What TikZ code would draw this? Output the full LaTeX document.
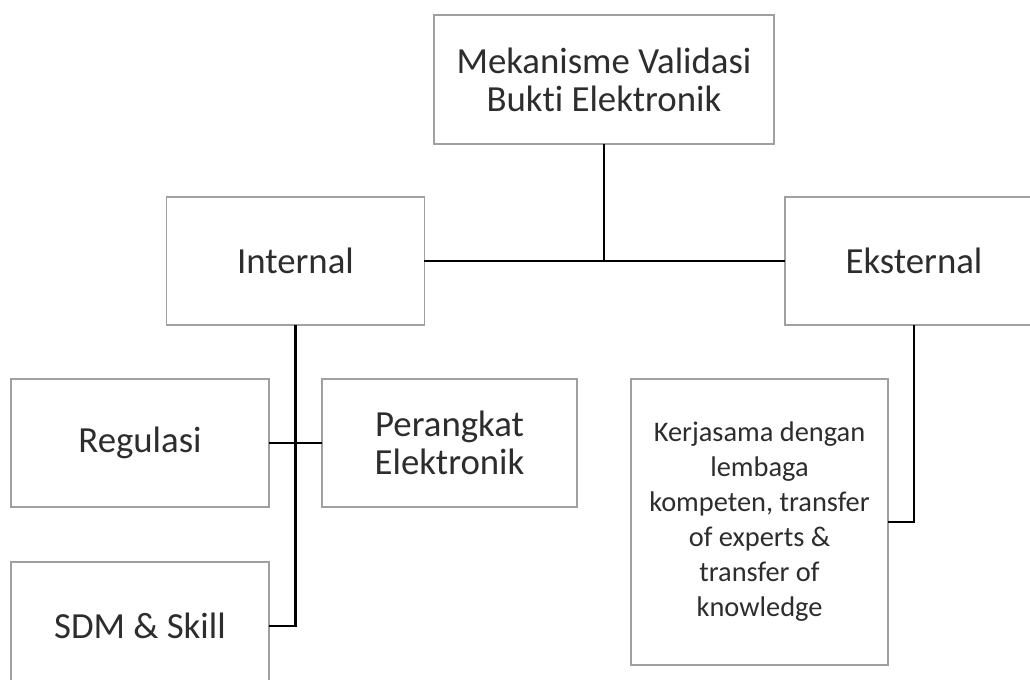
\documentclass[tikz,border=0pt]{standalone}
\usepackage{fontspec}
\setmainfont{Carlito}[Ligatures=NoCommon]
\usetikzlibrary{positioning}
\definecolor{boxgray}{RGB}{160,160,160}
\definecolor{txtgray}{RGB}{45,45,45}
\tikzset{
  blk/.style={draw=boxgray, line width=0.8pt, fill=white, text=txtgray, align=center,
    inner sep=0pt, minimum width=129pt, minimum height=64pt,
    font=\fontsize{18.4}{19}\selectfont},
  smalltxt/.style={font=\fontsize{14.2}{17.5}\selectfont},
  link/.style={draw=black, line width=1.2pt}
}
\begin{document}
\begin{tikzpicture}[line cap=rect,line join=miter,x=0.5pt,y=-0.5pt]
	\useasboundingbox (0,0) rectangle (1030,680);
	\clip (0,0) rectangle (1030,680);

	\node[blk, minimum width=170pt, minimum height=64.5pt] (top) at (604,79.5) {Mekanisme Validasi\\Bukti Elektronik};
	\node[blk] (internal) at (295.5,261) {Internal};
	\node[blk] (eksternal) at (914,261) {Eksternal};
	\node[blk] (regulasi) at (140,443) {Regulasi};
	\node[blk, minimum width=127.5pt] (perangkat) at (449.5,443) {Perangkat\\Elektronik};
	\node[blk] (sdm) at (140,626) {SDM \& Skill};
	\node[blk, smalltxt, minimum width=128.5pt, minimum height=143pt] (kerjasama) at (759.5,522)
		{Kerjasama dengan\\lembaga\\kompeten, transfer\\of experts \&\\transfer of\\knowledge};

	\coordinate (joint) at (top.south |- internal.east);
	\draw[link] (top.south) -- (joint);
	\draw[link] (internal.east) -- (eksternal.west);
	\draw[link] (internal.south) |- (sdm.east);
	\draw[link] (regulasi.east) -- (perangkat.west);
	\draw[link] (eksternal.south) |- (kerjasama.east);
\end{tikzpicture}
\end{document}
